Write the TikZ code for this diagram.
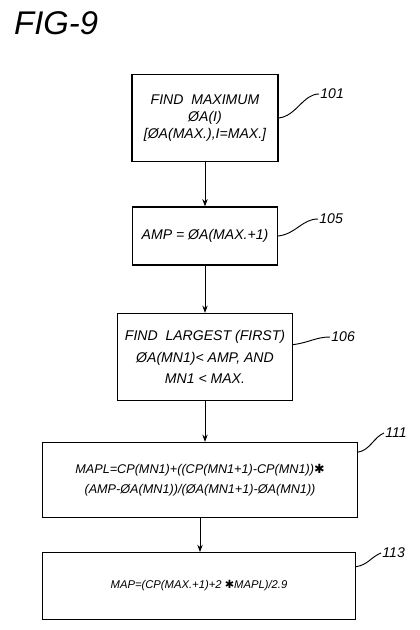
\documentclass[tikz,border=0pt]{standalone}
\usepackage{fontspec}
\setmainfont{Liberation Sans}
\newfontfamily\symfont{DejaVu Sans}
\newcommand{\heavystar}{{\symfont\upshape ✱}}
\usetikzlibrary{positioning, arrows.meta}
\tikzset{
	box/.style={draw, line width=1pt, align=center, font=\itshape\fontsize{12}{14.5}\selectfont, inner sep=2pt},
	wide/.style={font=\itshape\fontsize{10.8}{13}\selectfont},
	narrow/.style={font=\itshape\fontsize{9.6}{12}\selectfont},
	arrow/.style={line width=0.8pt, -{Stealth[length=2.2mm, width=1.6mm]}},
	leader/.style={line width=0.8pt},
	ref/.style={font=\itshape\large, anchor=west, inner sep=1pt},
}

\begin{document}
\begin{tikzpicture}[x=0.03cm, y=-0.03cm]
\useasboundingbox (0,0) rectangle (420,630);
\node[font=\itshape\fontsize{28}{32}\selectfont, anchor=west, inner sep=0pt] (fig) at (14,23) {FIG-9};

% Flow chart boxes
		\node[box, minimum width=4.38cm, minimum height=2.61cm] (b101) at (205,118) {FIND\ \ MAXIMUM\\ ØA(I)\\[0pt] [ØA(MAX.),I=MAX.]};
		\node[box, minimum width=4.35cm, minimum height=1.74cm] (b105) at (205,236) {AMP = ØA(MAX.+1)};
		\node[box, minimum width=5.25cm, minimum height=2.61cm] (b106) at (205,357) {FIND\ \ LARGEST (FIRST)\\[4pt] ØA(MN1)< AMP, AND\\[4pt] MN1 < MAX.};
		\node[box, wide, minimum width=9.45cm, minimum height=2.25cm] (b111) at (200,480) {MAPL=CP(MN1)+((CP(MN1+1)-CP(MN1))\heavystar\\[4pt] (AMP-ØA(MN1))/(ØA(MN1+1)-ØA(MN1))};
		\node[box, narrow, minimum width=9.39cm, minimum height=2.0cm] (b113) at (199,586) {MAP=(CP(MAX.+1)+2 \heavystar MAPL)/2.9};

% Reference numerals
		\node[ref] (l101) at (319,94) {101};
		\node[ref] (l105) at (318,219) {105};
		\node[ref] (l106) at (330,337) {106};
		\node[ref] (l111) at (384,433) {111};
		\node[ref] (l113) at (381,553) {113};

		\draw[leader] (b101.east) .. controls +(18,-2) and +(-16,0) .. (l101.west);
		\draw[leader] (b105.east) .. controls +(18,-2) and +(-16,0) .. (l105.west);
		\draw[leader] (b106.8) .. controls +(16,-2) and +(-14,0) .. (l106.west);
		\draw[leader] (b111.10) .. controls +(12,-2) and +(-10,4) .. (l111.west);
		\draw[leader] (b113.7) .. controls +(12,-2) and +(-10,4) .. (l113.west);

% Flow
		\draw[arrow] (b101.south) -- (b105.north);
		\draw[arrow] (b105.south) -- (b106.north);
		\draw[arrow] (b106.south) -- (b106.south |- b111.north);
		\draw[arrow] (b111.south) -- (b111.south |- b113.north);
\end{tikzpicture}
\end{document}
